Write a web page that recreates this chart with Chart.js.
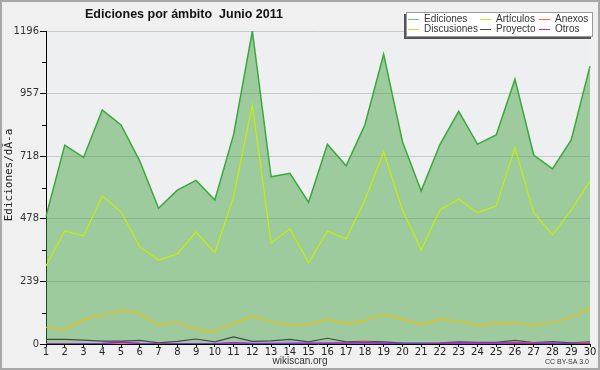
<!DOCTYPE html>
<html>
<head>
<meta charset="utf-8">
<script src="https://cdn.jsdelivr.net/npm/chart.js@4/dist/chart.umd.min.js"></script>
<style>
    html, body { margin: 0; padding: 0; background: #f0f0f0; }
    #wrap { width: 600px; height: 370px; }
</style>
</head>
<body>
<div id="wrap"><canvas id="chart" width="600" height="370"></canvas></div>
<script>
const days = ['1', '2', '3', '4', '5', '6', '7', '8', '9', '10', '11', '12', '13', '14', '15',
    '16', '17', '18', '19', '20', '21', '22', '23', '24', '25', '26', '27', '28', '29', '30'];

const ediciones = [487, 760, 713, 894, 837, 699, 519, 588, 625, 550, 800, 1196, 639, 652, 542,
    763, 681, 838, 1107, 774, 585, 762, 889, 764, 799, 1012, 722, 669, 780, 1062];
const articulos = [298, 432, 413, 566, 505, 371, 321, 344, 428, 348, 563, 913, 386, 440, 310,
    432, 401, 550, 734, 512, 359, 512, 554, 502, 527, 750, 502, 417, 512, 623];
const discusiones = [64, 56, 94, 110, 129, 115, 73, 83, 56, 47, 79, 107, 84, 73, 76,
    94, 79, 89, 113, 94, 75, 94, 88, 71, 79, 83, 70, 83, 102, 136];
const proyecto = [18, 18, 15, 11, 11, 14, 4, 10, 19, 8, 27, 10, 12, 18, 8,
    22, 8, 10, 8, 3, 3, 4, 8, 6, 6, 14, 5, 9, 4, 8];
const anexos = [1, 1, 1, 1, 5, 2, 1, 1, 1, 1, 2, 1, 1, 1, 2,
    3, 4, 8, 2, 1, 1, 3, 3, 2, 2, 6, 4, 2, 1, 6];
const otros = [0, 0, 1, 2, 8, 2, 0, 1, 1, 1, 5, 2, 2, 3, 3,
    3, 4, 5, 4, 1, 1, 2, 5, 4, 5, 3, 2, 3, 1, 2];

const yTicks = [0, 239, 478, 718, 957, 1196];
const legendRows = [['Ediciones', 'Artículos', 'Anexos'], ['Discusiones', 'Proyecto', 'Otros']];

const colors = {
    'Ediciones': '#3aa83a',
    'Artículos': '#c4f000',
    'Discusiones': '#f0c000',
    'Proyecto': '#484848',
    'Anexos': '#ff5a1e',
    'Otros': '#8a2be2'
};
const legendColors = {
    'Ediciones': '#70c870',
    'Artículos': '#c8f020',
    'Discusiones': '#f5c830',
    'Proyecto': '#444444',
    'Anexos': '#ff6a30',
    'Otros': '#8c40f0'
};

function lineSet(label, data, order, width) {
    return {
        label: label,
        data: data,
        borderColor: colors[label],
        borderWidth: width,
        pointRadius: 0,
        tension: 0,
        fill: false,
        order: order
    };
}

const backgroundPlugin = {
    id: 'background',
    beforeDraw(chart) {
        const ctx = chart.ctx;
        const area = chart.chartArea;
        ctx.save();
        ctx.fillStyle = '#f0f0f0';
        ctx.fillRect(0, 0, chart.width, chart.height);
        ctx.strokeStyle = '#a8a8a8';
        ctx.lineWidth = 2;
        ctx.strokeRect(1, 1, chart.width - 2, chart.height - 2);
        ctx.fillStyle = '#eeeff1';
        ctx.fillRect(area.left, area.top, area.right - area.left, area.bottom - area.top);
        ctx.restore();
    }
};

const decorPlugin = {
    id: 'decor',
    afterDraw(chart) {
        const ctx = chart.ctx;
        const yScale = chart.scales.y;
        const left = chart.chartArea.left;
        ctx.save();

        // minor ticks on the y axis
        ctx.strokeStyle = '#000';
        ctx.lineWidth = 1;
        for (let i = 0; i < yTicks.length - 1; i++) {
            const y = Math.round(yScale.getPixelForValue((yTicks[i] + yTicks[i + 1]) / 2)) + 0.5;
            ctx.beginPath();
            ctx.moveTo(left - 4, y);
            ctx.lineTo(left, y);
            ctx.stroke();
        }

        // title
        ctx.fillStyle = '#111';
        ctx.font = 'bold 12.5px "Liberation Sans", Arial, sans-serif';
        ctx.textAlign = 'left';
        ctx.textBaseline = 'alphabetic';
        ctx.fillText('Ediciones por ámbito  Junio 2011', 85, 18);

        // y axis title
        ctx.save();
        ctx.translate(9, 175);
        ctx.rotate(-Math.PI / 2);
        ctx.font = '11px "DejaVu Sans Mono", monospace';
        ctx.fillStyle = '#222';
        ctx.textAlign = 'center';
        ctx.textBaseline = 'middle';
        ctx.fillText('Ediciones/dÃ-a', 0, 0);
        ctx.restore();

        // legend box
        ctx.fillStyle = '#555';
        ctx.fillRect(404, 14, 187, 25);
        ctx.fillStyle = '#fff';
        ctx.fillRect(406, 12, 187, 25);
        ctx.strokeStyle = '#9a9a9a';
        ctx.strokeRect(406.5, 12.5, 186, 24);

        const colX = [408, 480, 539];
        const rowY = [19, 29];
        ctx.font = '10px "Liberation Sans", Arial, sans-serif';
        ctx.textBaseline = 'middle';
        ctx.textAlign = 'left';
        legendRows.forEach((row, r) => {
            row.forEach((label, c) => {
                const y = rowY[r];
                ctx.fillStyle = legendColors[label];
                ctx.fillRect(colX[c], y, 11, 1);
                ctx.fillStyle = '#333';
                ctx.fillText(label, colX[c] + 16, y);
            });
        });

        // footers
        ctx.fillStyle = '#333';
        ctx.font = '10px "Liberation Sans", Arial, sans-serif';
        ctx.textAlign = 'center';
        ctx.fillText('wikiscan.org', 300, 361);
        ctx.font = '7px "Liberation Sans", Arial, sans-serif';
        ctx.textAlign = 'right';
        ctx.fillText('CC BY-SA 3.0', 589, 362);

        ctx.restore();
    }
};

new Chart(document.querySelector('#chart'), {
    type: 'line',
    data: {
        labels: days,
        datasets: [
            {
                label: 'Ediciones',
                data: ediciones,
                borderColor: colors['Ediciones'],
                borderWidth: 1.5,
                backgroundColor: 'rgba(60, 160, 60, 0.455)',
                pointRadius: 0,
                tension: 0,
                fill: 'origin',
                order: 10
            },
            lineSet('Artículos', articulos, 5, 1.2),
            lineSet('Discusiones', discusiones, 4, 1.2),
            lineSet('Proyecto', proyecto, 3, 1.2),
            lineSet('Anexos', anexos, 2, 1.5),
            lineSet('Otros', otros, 1, 1.5)
        ]
    },
    options: {
        responsive: false,
        animation: false,
        devicePixelRatio: 1,
        layout: {
            padding: {left: 0, right: 10, top: 31, bottom: 0}
        },
        plugins: {
            legend: {display: false},
            title: {display: false},
            tooltip: {enabled: false}
        },
        scales: {
            x: {
                offset: false,
                afterFit(scale) {
                    scale.height = 26;
                },
                grid: {
                    drawOnChartArea: false,
                    drawTicks: true,
                    tickLength: 3,
                    tickColor: '#000'
                },
                border: {color: '#000', width: 1},
                ticks: {
                    autoSkip: false,
                    maxRotation: 0,
                    padding: -1,
                    color: '#222',
                    font: {family: '"DejaVu Sans", sans-serif', size: 10}
                }
            },
            y: {
                min: 0,
                max: 1196,
                afterFit(scale) {
                    scale.width = 46;
                },
                afterBuildTicks(scale) {
                    scale.ticks = yTicks.map(v => ({value: v}));
                },
                grid: {
                    color: '#c8c8cc',
                    lineWidth: 1,
                    drawTicks: true,
                    tickLength: 6,
                    tickColor: '#000'
                },
                border: {color: '#000', width: 1},
                ticks: {
                    padding: 1,
                    color: '#333',
                    font: {family: '"DejaVu Sans", sans-serif', size: 10},
                    callback: value => String(value)
                }
            }
        }
    },
    plugins: [backgroundPlugin, decorPlugin]
});
</script>
</body>
</html>
